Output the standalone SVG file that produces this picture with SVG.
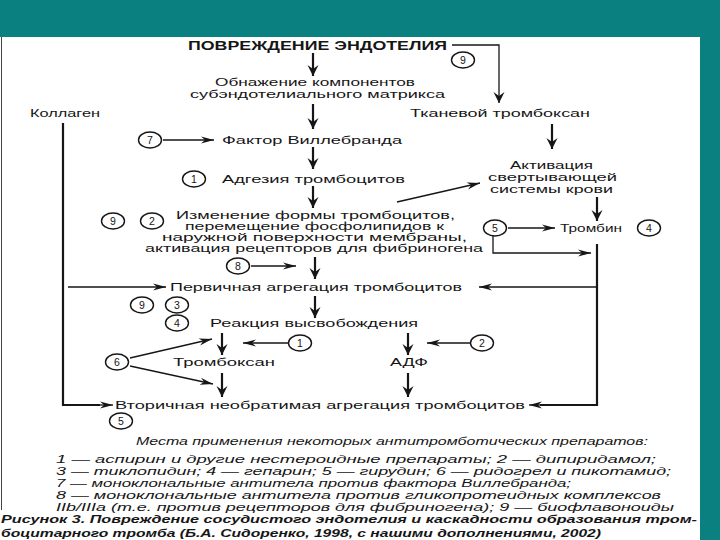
<svg xmlns="http://www.w3.org/2000/svg" width="720" height="540" viewBox="0 0 720 540">
<defs>
<style>
.t{font-family:"Liberation Sans",Arial,sans-serif;font-size:11.5px;fill:#161616}
.s{font-size:10.5px}
.b{font-weight:bold;font-size:12.5px}
.i{font-style:italic;font-size:10.5px}
.bi{font-style:italic;font-weight:bold;font-size:11.5px}
.n{font-family:"Liberation Sans",Arial,sans-serif;font-size:10.5px;fill:#161616;text-anchor:middle}
.c{fill:none;stroke:#161616;stroke-width:1.4}
.L{fill:none;stroke:#161616;stroke-width:2.2}
.l{fill:none;stroke:#161616;stroke-width:1.3}
.big{marker-end:url(#mb)}
.thin{marker-end:url(#mt)}
</style>
<marker id="mb" viewBox="-12 -6 12 12" refX="0" refY="0" markerWidth="12" markerHeight="12" orient="auto" markerUnits="userSpaceOnUse"><path d="M0,0 L-11,-5.5 L-7,0 L-11,5.5 Z" fill="#161616"/></marker>
<marker id="mt" viewBox="-14 -4 14 8" refX="0" refY="0" markerWidth="14" markerHeight="8" orient="auto" markerUnits="userSpaceOnUse"><path d="M0,0 L-13,-3.6 L-9,0 L-13,3.6 Z" fill="#161616"/></marker>
</defs>
<rect x="0" y="0" width="720" height="540" fill="#0a8080"/>
<rect x="0" y="37" width="700" height="503" fill="#ffffff"/>
<line x1="1.5" y1="37" x2="1.5" y2="510" stroke="#444" stroke-width="1"/>

<g id="connectors">
<path class="L big" d="M313,53 V76"/>
<path class="l big" d="M452,45 H499 V103"/>
<path class="L big" d="M313,104 V129"/>
<path class="l thin" d="M163,140 H214"/>
<path class="L big" d="M313,147 V169"/>
<path class="L big" d="M313,186 V208"/>
<path class="L big" d="M552,124 V149"/>
<path class="l thin" d="M397,202 L480,183"/>
<path class="L big" d="M597,197 V221"/>
<path class="l thin" style="stroke-width:1.6" d="M508,228 H555"/>
<path class="l thin" d="M493,236 V253 H591"/>
<path class="L" d="M597,244 V405 H540"/>
<path class="l thin" d="M545,405 H529"/>
<path class="l thin" d="M597,287 H479"/>
<path class="l thin" d="M251,266 H296"/>
<path class="L big" d="M315,257 V279"/>
<path class="l thin" d="M68,287 H166"/>
<path class="L big" d="M315,296 V318"/>
<path class="L big" d="M222,333 V355"/>
<path class="l thin" d="M288,343 H243"/>
<path class="L big" d="M408,333 V355"/>
<path class="l thin" d="M470,343 H427"/>
<path class="l thin" d="M130,358 L212,339"/>
<path class="l thin" d="M130,366 L213,384"/>
<path class="L big" d="M222,373 V397"/>
<path class="L big" d="M408,373 V397"/>
<path class="L" d="M63,123 V405 H100"/>
<path class="l thin" d="M95,405 H113"/>
</g>

<g id="n-povrezhdenie"><text class="t b" x="188" y="50" textLength="259" lengthAdjust="spacingAndGlyphs">ПОВРЕЖДЕНИЕ ЭНДОТЕЛИЯ</text></g>
<g id="n-obnazhenie">
<text class="t" x="215" y="86" textLength="200" lengthAdjust="spacingAndGlyphs">Обнажение компонентов</text>
<text class="t" x="190" y="98" textLength="255" lengthAdjust="spacingAndGlyphs">субэндотелиального матрикса</text>
</g>
<g id="n-kollagen"><text class="t" x="30" y="117" textLength="70" lengthAdjust="spacingAndGlyphs">Коллаген</text></g>
<g id="n-tkanevoy"><text class="t" x="410" y="117" textLength="180" lengthAdjust="spacingAndGlyphs">Тканевой тромбоксан</text></g>
<g id="n-faktor"><text class="t" x="222" y="144" textLength="180" lengthAdjust="spacingAndGlyphs">Фактор Виллебранда</text></g>
<g id="n-adgeziya"><text class="t" x="222" y="183" textLength="183" lengthAdjust="spacingAndGlyphs">Адгезия тромбоцитов</text></g>
<g id="n-aktivaciya">
<text class="t" x="510" y="169" textLength="83" lengthAdjust="spacingAndGlyphs">Активация</text>
<text class="t" x="488" y="181" textLength="129" lengthAdjust="spacingAndGlyphs">свертывающей</text>
<text class="t" x="490" y="193" textLength="123" lengthAdjust="spacingAndGlyphs">системы крови</text>
</g>
<g id="n-izmenenie">
<text class="t s" x="176" y="219" textLength="279" lengthAdjust="spacingAndGlyphs">Изменение формы тромбоцитов,</text>
<text class="t s" x="185" y="230" textLength="259" lengthAdjust="spacingAndGlyphs">перемещение фосфолипидов к</text>
<text class="t s" x="162" y="241" textLength="305" lengthAdjust="spacingAndGlyphs">наружной поверхности мембраны,</text>
<text class="t s" x="145" y="252" textLength="338" lengthAdjust="spacingAndGlyphs">активация рецепторов для фибриногена</text>
</g>
<g id="n-trombin"><text class="t" x="560" y="232" textLength="62" lengthAdjust="spacingAndGlyphs">Тромбин</text></g>
<g id="n-pervichnaya"><text class="t" x="170" y="291" textLength="292" lengthAdjust="spacingAndGlyphs">Первичная агрегация тромбоцитов</text></g>
<g id="n-reakciya"><text class="t" x="210" y="327" textLength="208" lengthAdjust="spacingAndGlyphs">Реакция высвобождения</text></g>
<g id="n-tromboksan"><text class="t" x="173" y="366" textLength="102" lengthAdjust="spacingAndGlyphs">Тромбоксан</text></g>
<g id="n-adf"><text class="t" x="390" y="366" textLength="38" lengthAdjust="spacingAndGlyphs">АДФ</text></g>
<g id="n-vtorichnaya"><text class="t" x="115" y="409" textLength="410" lengthAdjust="spacingAndGlyphs">Вторичная необратимая агрегация тромбоцитов</text></g>

<g id="drug-marks">
<ellipse class="c" cx="463" cy="60" rx="11.5" ry="8"/><text class="n" x="463" y="63.8">9</text>
<ellipse class="c" cx="150" cy="140" rx="11.5" ry="8"/><text class="n" x="150" y="143.8">7</text>
<ellipse class="c" cx="194" cy="179" rx="11.5" ry="8"/><text class="n" x="194" y="182.8">1</text>
<ellipse class="c" cx="113" cy="221" rx="11.5" ry="8"/><text class="n" x="113" y="224.8">9</text>
<ellipse class="c" cx="152" cy="221" rx="11.5" ry="8"/><text class="n" x="152" y="224.8">2</text>
<ellipse class="c" cx="495" cy="228" rx="11.5" ry="8"/><text class="n" x="495" y="231.8">5</text>
<ellipse class="c" cx="649" cy="228" rx="11.5" ry="8"/><text class="n" x="649" y="231.8">4</text>
<ellipse class="c" cx="238" cy="266" rx="11.5" ry="8"/><text class="n" x="238" y="269.8">8</text>
<ellipse class="c" cx="142" cy="305" rx="11.5" ry="8"/><text class="n" x="142" y="308.8">9</text>
<ellipse class="c" cx="177" cy="305" rx="11.5" ry="8"/><text class="n" x="177" y="308.8">3</text>
<ellipse class="c" cx="177" cy="323" rx="11.5" ry="8"/><text class="n" x="177" y="326.8">4</text>
<ellipse class="c" cx="300" cy="343" rx="11.5" ry="8"/><text class="n" x="300" y="346.8">1</text>
<ellipse class="c" cx="482" cy="343" rx="11.5" ry="8"/><text class="n" x="482" y="346.8">2</text>
<ellipse class="c" cx="117" cy="362" rx="11.5" ry="8"/><text class="n" x="117" y="365.8">6</text>
<ellipse class="c" cx="121" cy="421" rx="11.5" ry="8"/><text class="n" x="121" y="424.8">5</text>
</g>

<g id="legend">
<text class="t i" x="136" y="445" textLength="512" lengthAdjust="spacingAndGlyphs">Места применения некоторых антитромботических препаратов:</text>
<text class="t i" x="56" y="463" textLength="600" lengthAdjust="spacingAndGlyphs">1 — аспирин и другие нестероидные препараты; 2 — дипиридамол;</text>
<text class="t i" x="56" y="475" textLength="615" lengthAdjust="spacingAndGlyphs">3 — тиклопидин; 4 — гепарин; 5 — гирудин; 6 — ридогрел и пикотамид;</text>
<text class="t i" x="56" y="487" textLength="515" lengthAdjust="spacingAndGlyphs">7 — моноклональные антитела против фактора Виллебранда;</text>
<text class="t i" x="56" y="499" textLength="605" lengthAdjust="spacingAndGlyphs">8 — моноклональные антитела против гликопротеидных комплексов</text>
<text class="t i" x="56" y="511" textLength="618" lengthAdjust="spacingAndGlyphs">IIb/IIIa (т.е. против рецепторов для фибриногена); 9 — биофлавоноиды</text>
</g>
<g id="caption">
<text class="t bi" x="1" y="523" textLength="696" lengthAdjust="spacingAndGlyphs">Рисунок 3. Повреждение сосудистого эндотелия и каскадности образования тром-</text>
<text class="t bi" x="1" y="536.5" textLength="600" lengthAdjust="spacingAndGlyphs">боцитарного тромба (Б.А. Сидоренко, 1998, с нашими дополнениями, 2002)</text>
</g>
</svg>
